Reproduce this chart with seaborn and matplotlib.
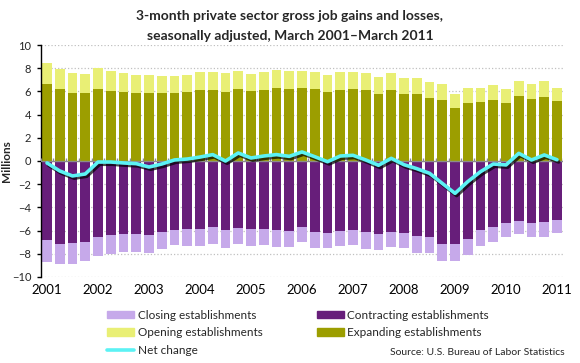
import matplotlib
matplotlib.use('Agg')
import matplotlib.pyplot as plt
import matplotlib.patheffects as pe
from matplotlib.patches import Patch
from matplotlib.lines import Line2D
import seaborn as sns
import numpy as np
import pandas as pd

# quarterly data, March 2001 - March 2011 (millions)
quarters = ['Mar', 'Jun', 'Sep', 'Dec']
years = list(range(2001, 2012))
quarter_labels = [f'{q} {y}' for y in years for q in quarters][:41]

expanding = [6.64, 6.21, 5.86, 5.86, 6.21, 6.03, 5.95, 5.86, 5.86, 5.86,
             5.86, 5.95, 6.12, 6.12, 5.95, 6.21, 6.03, 6.12, 6.29, 6.21,
             6.29, 6.21, 5.95, 6.12, 6.21, 6.12, 5.78, 6.12, 5.78, 5.78,
             5.43, 5.26, 4.57, 5.00, 5.09, 5.26, 5.00, 5.60, 5.34, 5.52,
             5.17]
opening = [1.84, 1.72, 1.73, 1.64, 1.81, 1.73, 1.64, 1.55, 1.55, 1.47,
           1.47, 1.46, 1.55, 1.55, 1.64, 1.55, 1.47, 1.55, 1.55, 1.55,
           1.47, 1.46, 1.46, 1.55, 1.46, 1.47, 1.46, 1.47, 1.38, 1.38,
           1.38, 1.38, 1.21, 1.29, 1.20, 1.29, 1.21, 1.30, 1.30, 1.38,
           1.12]
contracting = [6.81, 7.16, 7.07, 6.98, 6.55, 6.38, 6.29, 6.29, 6.38, 6.12,
               5.95, 5.86, 5.86, 5.69, 5.95, 5.78, 5.86, 5.86, 5.95, 6.03,
               5.69, 6.12, 6.21, 6.03, 5.95, 6.12, 6.29, 6.12, 6.21, 6.47,
               6.55, 7.16, 7.16, 6.72, 5.95, 5.69, 5.34, 5.17, 5.34, 5.26,
               5.09]
closing = [1.87, 1.69, 1.78, 1.61, 1.61, 1.61, 1.53, 1.53, 1.52, 1.44,
           1.26, 1.44, 1.44, 1.44, 1.52, 1.35, 1.44, 1.35, 1.44, 1.36,
           1.26, 1.35, 1.26, 1.27, 1.26, 1.44, 1.35, 1.27, 1.26, 1.43,
           1.35, 1.43, 1.43, 1.35, 1.35, 1.26, 1.18, 1.09, 1.18, 1.26,
           1.09]
net_change = [-0.17, -0.86, -1.29, -1.12, -0.09, -0.09, -0.17, -0.23, -0.52, -0.26,
              0.09, 0.17, 0.34, 0.55, 0.00, 0.69, 0.26, 0.43, 0.55, 0.40,
              0.78, 0.37, -0.06, 0.43, 0.49, 0.09, -0.37, 0.23, -0.32, -0.66,
              -1.06, -1.93, -2.79, -1.78, -0.92, -0.26, -0.34, 0.66, 0.09, 0.52,
              0.11]

c_expanding = '#9c9e00'
c_opening = '#e9ef75'
c_contracting = '#671e7a'
c_closing = '#c6a9ea'
c_net = '#5cf2f4'

df = pd.DataFrame({'quarter': quarter_labels,
                   'expanding': expanding,
                   'opening': opening,
                   'contracting': contracting,
                   'closing': closing})
# stack the layers: draw the full height first, then the inner part over it
df['gains_top'] = df['expanding'] + df['opening']
df['contr_neg'] = -df['contracting']
df['losses_bottom'] = -(df['contracting'] + df['closing'])

sns.set_theme(style='white')
plt.rcParams['font.family'] = ['Lato', 'DejaVu Sans']

fig = plt.figure(figsize=(5.8, 3.63), dpi=100)
ax = fig.add_axes([0.0707, 0.237, 0.900, 0.639])

for col, color in [('gains_top', c_opening), ('expanding', c_expanding),
                   ('losses_bottom', c_closing), ('contr_neg', c_contracting)]:
    sns.barplot(data=df, x='quarter', y=col, color=color, saturation=1,
                width=0.78, linewidth=0, ax=ax, zorder=2)

sns.lineplot(x=np.arange(len(net_change)), y=net_change, color=c_net, lw=2.6,
             ax=ax, zorder=5,
             path_effects=[pe.SimpleLineShadow(offset=(1.2, -1.6), shadow_color='black', alpha=0.7),
                           pe.Normal()])

# zero line with little category ticks
ax.axhline(0, color='#8c8c8c', lw=1, zorder=4)
ax.vlines(np.arange(len(net_change) + 1) - 0.5, 0, 0.25, color='#8c8c8c', lw=1, zorder=4)

ax.set_xlim(-0.47, 40.47)
ax.set_ylim(-10, 10)
ax.set_yticks(range(-10, 11, 2))
ax.yaxis.grid(True, linestyle=':', color='#c0c0c0', lw=0.9)
ax.set_axisbelow(True)

ax.set_xticks(range(0, 41, 4))
ax.set_xticklabels([str(y) for y in years])
ax.tick_params(axis='x', length=0, pad=5, labelsize=9.5, colors='black')
ax.tick_params(axis='y', left=True, direction='out', length=3, width=1,
               color='black', labelsize=8, pad=4)
ax.set_xlabel('')
ax.set_ylabel('Millions', fontsize=8.5, fontweight='bold')
ax.yaxis.set_label_coords(-0.056, 0.5)

for s in ['top', 'right', 'bottom']:
    ax.spines[s].set_visible(False)
ax.spines['left'].set_color('black')
ax.spines['left'].set_linewidth(1)

fig.text(0.5, 0.955, '3-month private sector gross job gains and losses,',
         ha='center', va='center', fontsize=10, fontweight='bold')
fig.text(0.5, 0.90, 'seasonally adjusted, March 2001\u2013March 2011',
         ha='center', va='center', fontsize=10, fontweight='bold')

handles = [Patch(color=c_closing), Patch(color=c_opening),
           Line2D([], [], color=c_net, lw=2.6),
           Patch(color=c_contracting), Patch(color=c_expanding)]
labels = ['Closing establishments', 'Opening establishments', 'Net change',
          'Contracting establishments', 'Expanding establishments']
fig.legend(handles, labels, ncol=2, loc='upper left',
           bbox_to_anchor=(101 / 580, 1 - 304 / 363), frameon=False,
           fontsize=8.5, borderpad=0, handlelength=2.3, handleheight=0.6,
           handletextpad=0.3, labelspacing=0.55, columnspacing=4.6)

fig.text(0.974, 0.03, 'Source: U.S. Bureau of Labor Statistics',
         ha='right', va='center', fontsize=7.5)

fig.savefig('out.png', dpi=100)
